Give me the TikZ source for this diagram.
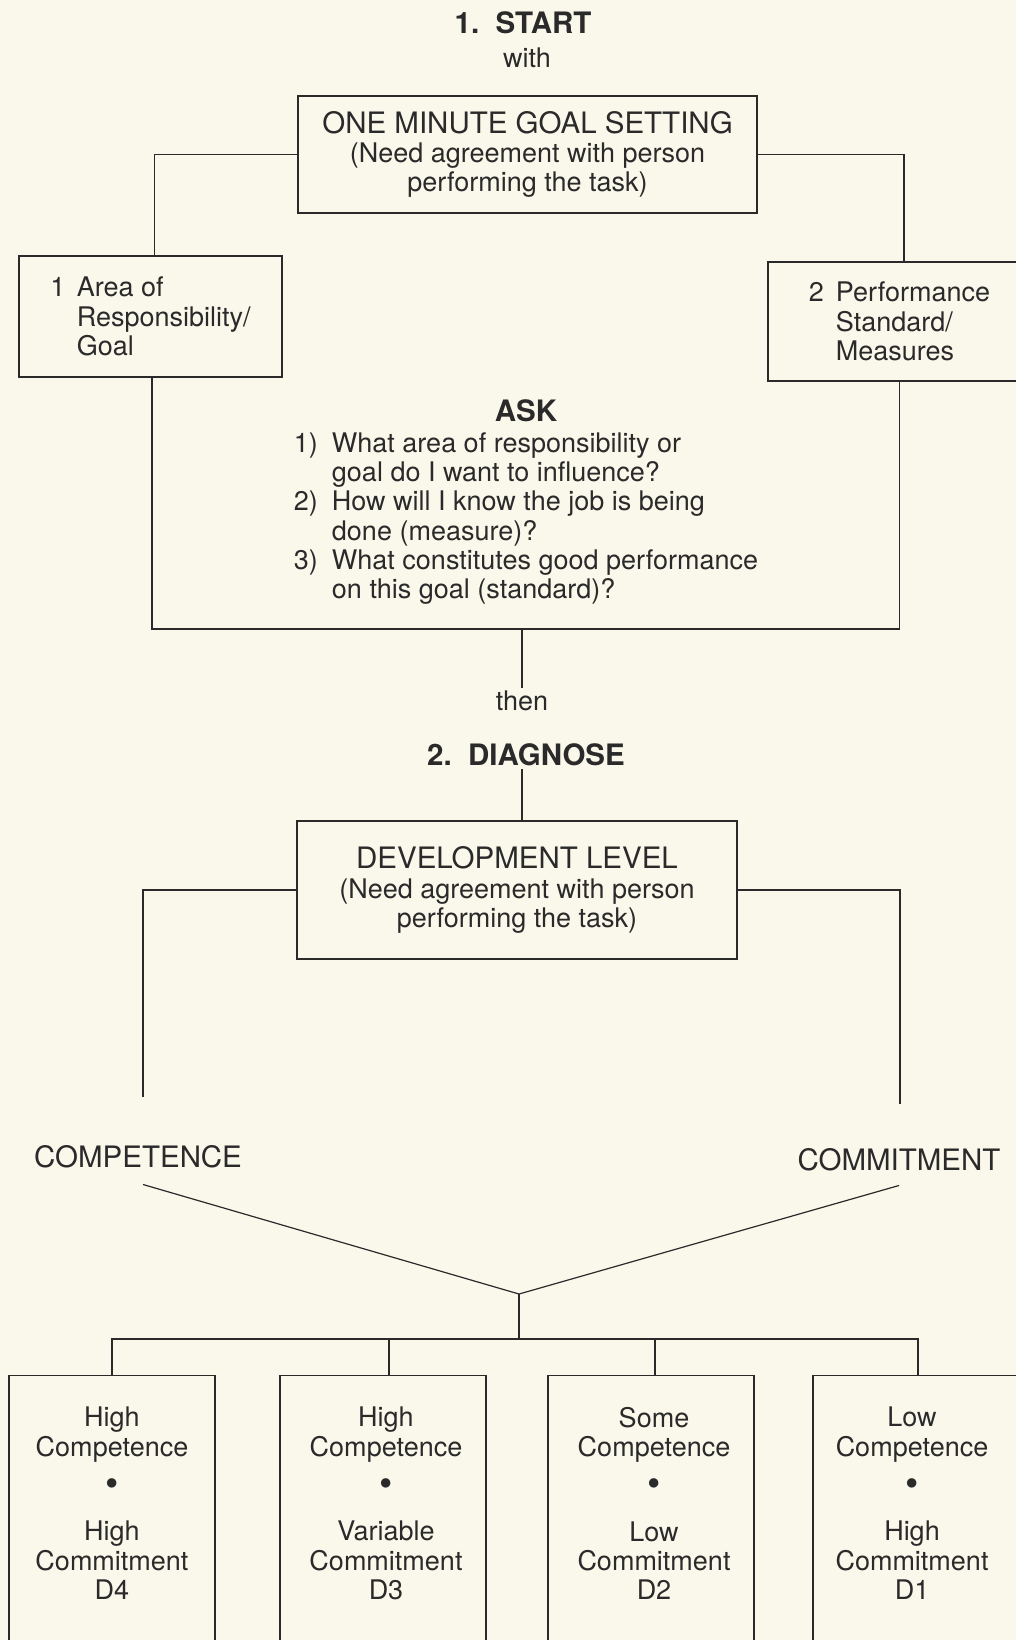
\documentclass[tikz,border=0pt]{standalone}
\usepackage{fontspec}
\setmainfont{TeX Gyre Heros}
\usetikzlibrary{positioning}
\definecolor{paper}{HTML}{FAF7EB}
\definecolor{ink}{HTML}{2A2A2A}
\newcommand{\levelsep}{\raisebox{-3pt}{\fontsize{38}{29.3}\selectfont\textbullet}}

\begin{document}
\begin{tikzpicture}[x=1pt, y=-1pt,
    every node/.style={text=ink, inner sep=3pt},
    mixed/.style={font=\fontsize{27}{29.3}\selectfont},
    caps/.style={font=\fontsize{29.5}{30}\selectfont},
    head/.style={font=\fontsize{29.5}{30}\selectfont\bfseries},
    box/.style={draw=ink, line width=1.3pt, mixed},
    col/.style={box, anchor=north, minimum width=206pt, minimum height=290pt},
    coltext/.style={mixed, align=center},
    wire/.style={draw=ink, line width=1.2pt},
  ]
  \useasboundingbox (0,0) rectangle (1016,1640);
  \fill[paper] (0,0) rectangle (1016,1640);

  % step one, at the top
  \node[head]  (start) at (523,23) {1.\ \ START};
  \node[mixed] (with)  at (527,58) {with};

  \node[box, align=center, minimum width=459pt, minimum height=117pt] (goal) at (527.5,154.5)
        {{\fontsize{29.5}{30}\selectfont ONE MINUTE GOAL SETTING}\\
         (Need agreement with person\\ performing the task)};

  % the two parts of a goal
  \node[box, align=left, minimum width=263pt, minimum height=121pt] (area) at (150.5,316.5)
        {\makebox[26.5pt][l]{1}Area of\\ \hspace*{26.5pt}Responsibility/\\ \hspace*{26.5pt}Goal};
  \node[box, align=left, minimum width=263pt, minimum height=119pt] (perf) at (899.5,321.5)
        {\makebox[27pt][l]{2}Performance\\ \hspace*{27pt}Standard/\\ \hspace*{27pt}Measures};

  \draw[wire] (goal.west) -| ([xshift=4pt]area.north);
  \draw[wire] (goal.east) -| ([xshift=4.5pt]perf.north);

  % the questions to ask
  \node[head] (ask) at (526,411) {ASK};
  \node[mixed, align=left, below=4pt of ask] (qs)
        {\makebox[38pt][l]{1)}What area of responsibility or\\
         \hspace*{38pt}goal do I want to influence?\\
         \makebox[38pt][l]{2)}How will I know the job is being\\
         \hspace*{38pt}done (measure)?\\
         \makebox[38pt][l]{3)}What constitutes good performance\\
         \hspace*{38pt}on this goal (standard)?};

  \coordinate (askbot) at (522,629);
  \draw[wire] ([xshift=1.5pt]area.south) |- (askbot) -| (perf.south);

  % step two
  \node[mixed] (then) at (522,701) {then};
  \draw[wire] (askbot) -- (then);
  \node[head] (diag) at (526,755) {2.\ \ DIAGNOSE};

  \node[box, align=center, minimum width=440pt, minimum height=138pt] (dev) at (517,890)
        {{\fontsize{29.5}{30}\selectfont DEVELOPMENT LEVEL}\\
         (Need agreement with person\\ performing the task)};
  \draw[wire] (diag.south -| askbot) -- (dev.north -| askbot);

  \node[caps] (comp)   at (138,1157) {COMPETENCE};
  \node[caps] (commit) at (899,1160) {COMMITMENT};
  \draw[wire, shorten >=46pt] (dev.west) -| ([xshift=5pt]comp.north);
  \draw[wire, shorten >=42pt] (dev.east) -| ([xshift=1pt]commit.north);

  \coordinate (vee) at (519,1294);
  \coordinate (bar) at (519,1339);
  \draw[wire] ([xshift=5pt, yshift=-13pt]comp.south) -- (vee) -- ([yshift=-11pt]commit.south);
  \draw[wire] (vee) -- (bar);

  % the four development levels
  \node[col] (d4) at (112,1375) {};
  \node[col] (d3) at (383,1375) {};
  \node[col] (d2) at (651,1375) {};
  \node[col, minimum width=210pt] (d1) at (918,1375) {};

  \node[coltext, below=29pt of d4.north] (d4t)
        {High\\Competence\\[8pt]\levelsep\\[18pt]High\\Commitment\\D4};
  \node[coltext, below=29pt of d3.north, xshift=3pt] (d3t)
        {High\\Competence\\[8pt]\levelsep\\[18pt]Variable\\Commitment\\D3};
  \node[coltext, below=29pt of d2.north, xshift=3pt] (d2t)
        {Some\\Competence\\[8pt]\levelsep\\[18pt]Low\\Commitment\\D2};
  \node[coltext, below=29pt of d1.north, xshift=-6pt] (d1t)
        {Low\\Competence\\[8pt]\levelsep\\[18pt]High\\Commitment\\D1};

  \draw[wire] (d4.north) |- (bar) -| (d1.north);
  \draw[wire] ([xshift=6pt]d3.north) -- ([xshift=6pt]d3.north |- bar);
  \draw[wire] ([xshift=4pt]d2.north) -- ([xshift=4pt]d2.north |- bar);
\end{tikzpicture}
\end{document}
